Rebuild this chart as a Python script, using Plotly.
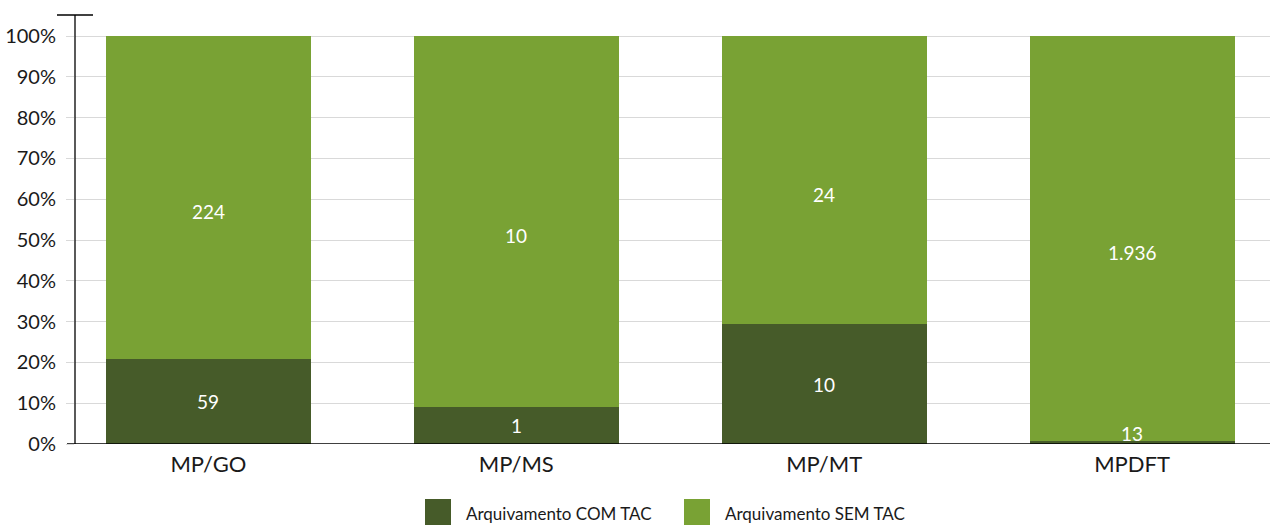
import plotly.graph_objects as go

categories = ["MP/GO", "MP/MS", "MP/MT", "MPDFT"]
com_tac = [59, 1, 10, 13]
sem_tac = [224, 10, 24, 1936]
series_names = ["Arquivamento COM TAC", "Arquivamento SEM TAC"]
tick_vals = [i / 10 for i in range(11)]
tick_text = [f"{i * 10}%" for i in range(11)]

DARK = "#465B29"
LIGHT = "#79A234"
FONT = "Lato"
L, R, T, B = 75, 12, 15, 82
PW, PH = 1282 - L - R, 526 - T - B


def fmt(v):
    return f"{v:,}".replace(",", ".")


totals = [a + b for a, b in zip(com_tac, sem_tac)]
fig = go.Figure()
base = [0.0] * len(categories)
for si, (name, vals, col) in enumerate([(series_names[0], com_tac, DARK),
                                        (series_names[1], sem_tac, LIGHT)]):
    fracs = [v / t for v, t in zip(vals, totals)]
    fig.add_trace(go.Bar(
        x=categories, y=fracs, name=name,
        marker=dict(color=col, line=dict(width=0)), width=0.666, hoverinfo="skip",
    ))
    for i, (c, f, v) in enumerate(zip(categories, fracs, vals)):
        small = f < 0.03
        fig.add_annotation(x=c, y=base[i] if small else base[i] + f / 2, text=fmt(v),
                           showarrow=False, yanchor="bottom" if small else "middle",
                           yshift=-3 if small else (-14 if si == 1 else 0),
                           font=dict(color="white", size=19, family=FONT))
        base[i] += f

fig.update_layout(
    barmode="stack", width=1282, height=526, showlegend=False,
    margin=dict(l=L, r=R, t=T, b=B, autoexpand=False),
    plot_bgcolor="white", paper_bgcolor="white",
    font=dict(family=FONT, color="#1a1a1a", size=19),
    xaxis=dict(range=[-0.4334, 3.448], showgrid=False, showline=False, ticks="",
               tickfont=dict(size=22), ticklabelstandoff=5, fixedrange=True,
               automargin=False),
    yaxis=dict(range=[0, 1.0515], tickvals=tick_vals, ticktext=tick_text,
               showgrid=True, gridcolor="#d9d9d9", gridwidth=1, zeroline=False,
               showline=False, ticks="outside", ticklen=8, tickcolor="#d9d9d9",
               ticklabelstandoff=6, tickfont=dict(size=20), fixedrange=True,
               automargin=False),
)

# axis lines
fig.add_shape(type="line", xref="paper", yref="paper", x0=0, x1=0, y0=0, y1=1,
              line=dict(color="black", width=1.3))
fig.add_shape(type="line", xref="paper", yref="paper", x0=(57 - L) / PW, x1=(93 - L) / PW,
              y0=1, y1=1, line=dict(color="black", width=1.3))
fig.add_shape(type="line", xref="paper", yref="y", x0=(67 - L) / PW, x1=1, y0=0, y1=0,
              line=dict(color="black", width=1.3))

# custom legend
legend_items = [(series_names[0], DARK, 425), (series_names[1], LIGHT, 684)]
for name, col, px in legend_items:
    fig.add_shape(type="rect", xref="paper", yref="paper",
                  x0=(px - L) / PW, x1=(px + 26 - L) / PW,
                  y0=(444 - 525) / PH, y1=(444 - 499) / PH,
                  fillcolor=col, line=dict(width=0))
    fig.add_annotation(xref="paper", yref="paper", x=(px + 39 - L) / PW,
                       y=(444 - 513) / PH, text=name, showarrow=False,
                       xanchor="left", yanchor="middle",
                       font=dict(size=17, family=FONT, color="#1a1a1a"))

fig.write_html("out.html", config={"displayModeBar": False},
               post_script="document.body.style.margin='0';document.body.style.overflow='hidden';")
